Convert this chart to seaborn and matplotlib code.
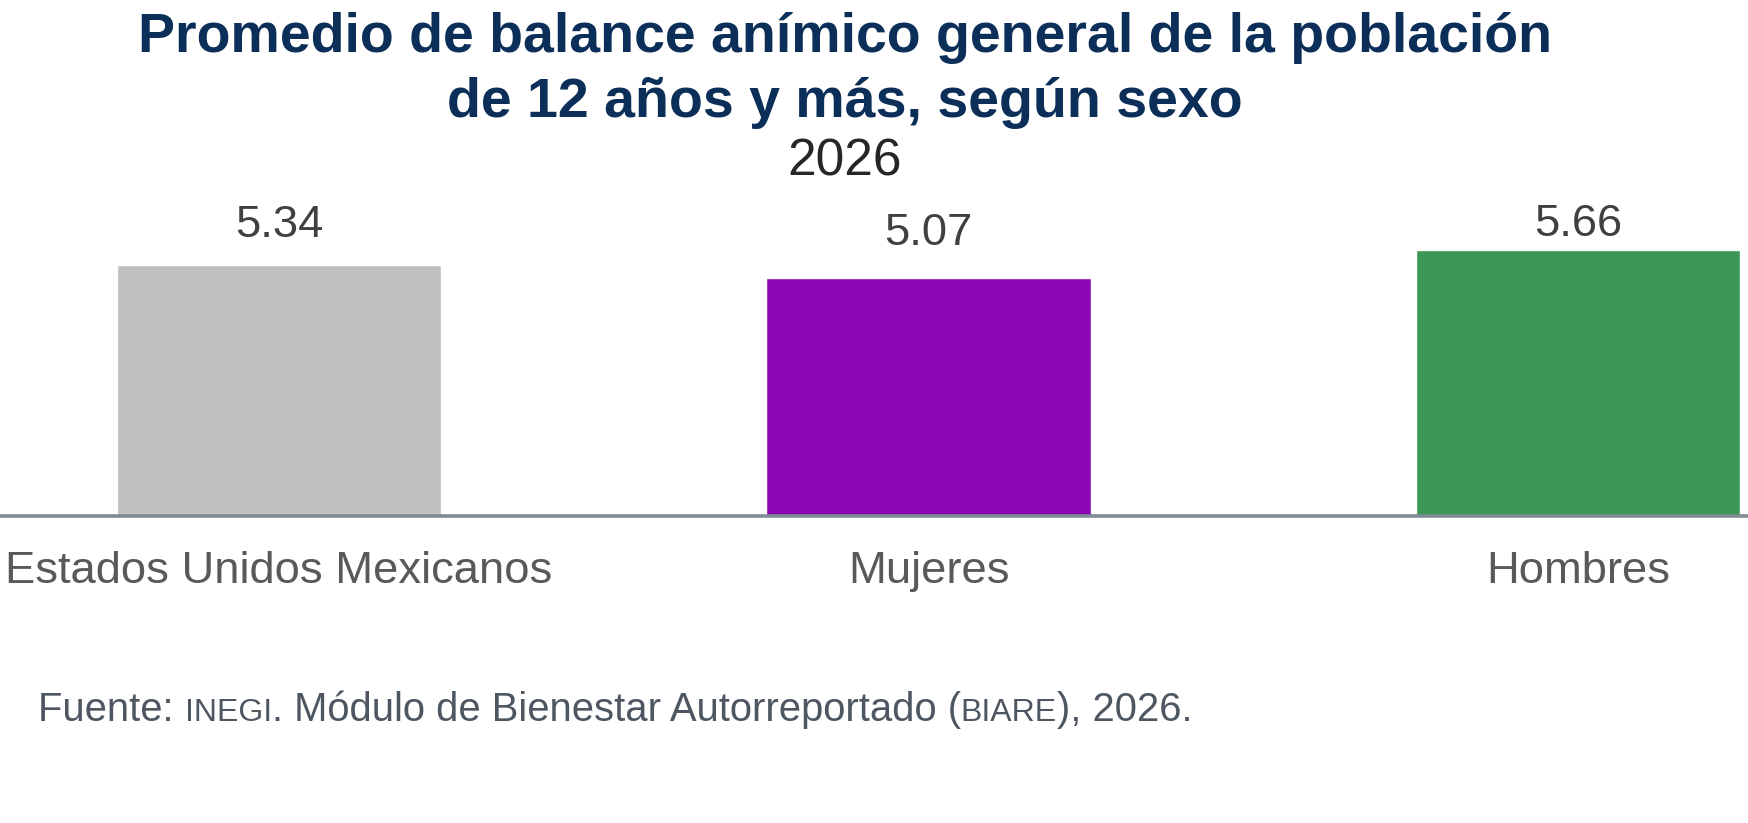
import matplotlib
matplotlib.use("Agg")
import matplotlib.pyplot as plt
import seaborn as sns

# --- data ---
categories = ["Estados Unidos Mexicanos", "Mujeres", "Hombres"]
values = [5.34, 5.07, 5.66]
bar_colors = ["#BFBFBF", "#8A07B3", "#3D9754"]

title_lines = ["Promedio de balance anímico general de la población",
               "de 12 años y más, según sexo"]
subtitle = "2026"
# footer pieces: (text, small caps?)
footer_parts = [("Fuente: ", False), ("INEGI", True),
                (". Módulo de Bienestar Autorreportado (", False),
                ("BIARE", True), ("), 2026.", False)]

# --- style ---
sns.set_theme(style="white")
plt.rcParams["font.family"] = ["Liberation Sans", "DejaVu Sans"]

W, H, DPI = 1748, 823, 100
fig = plt.figure(figsize=(W / DPI, H / DPI), dpi=DPI)
fig.patch.set_facecolor("white")

# axes spans the full width, baseline at ~516 px from top
ax = fig.add_axes([0, (H - 516) / H, 1, 329 / H])

sns.barplot(x=categories, y=values, hue=categories, palette=bar_colors,
            legend=False, width=0.5, saturation=1, ax=ax)

ax.set_xlim(-279 / 649.5, (W - 279) / 649.5)
ax.set_ylim(0, 7)
ax.set_xlabel("")
ax.set_ylabel("")
ax.set_yticks([])
for side in ["top", "left", "right"]:
    ax.spines[side].set_visible(False)
ax.spines["bottom"].set_color("#7F8B96")
ax.spines["bottom"].set_linewidth(2.6)
ax.tick_params(axis="x", length=0, pad=25.5, labelsize=32.7, labelcolor="#595959")
ax.set_facecolor("white")

# value labels, each with its own gap like the original
label_pad = [13.5, 17, 3.5]
for cont, pad in zip(ax.containers, label_pad):
    ax.bar_label(cont, fmt="%.2f", padding=pad, fontsize=32.7, color="#404040")

# --- titles ---
title_x = 845 / W
for line, base in zip(title_lines, [52, 117]):
    fig.text(title_x, (H - base) / H, line, ha="center", va="baseline",
             fontsize=40, fontweight="bold", color="#0B2F58")
fig.text(title_x, (H - 175) / H, subtitle, ha="center", va="baseline",
         fontsize=37, color="#262626")

# --- footer with small caps pieces ---
fig.canvas.draw()
renderer = fig.canvas.get_renderer()
x = 38 / W
for txt, small in footer_parts:
    t = fig.text(x, (H - 721) / H, txt, ha="left", va="baseline",
                 fontsize=23 if small else 28.8, color="#4D5661")
    bb = t.get_window_extent(renderer)
    x = bb.x1 / W

fig.savefig("out.png", dpi=DPI, facecolor="white")
